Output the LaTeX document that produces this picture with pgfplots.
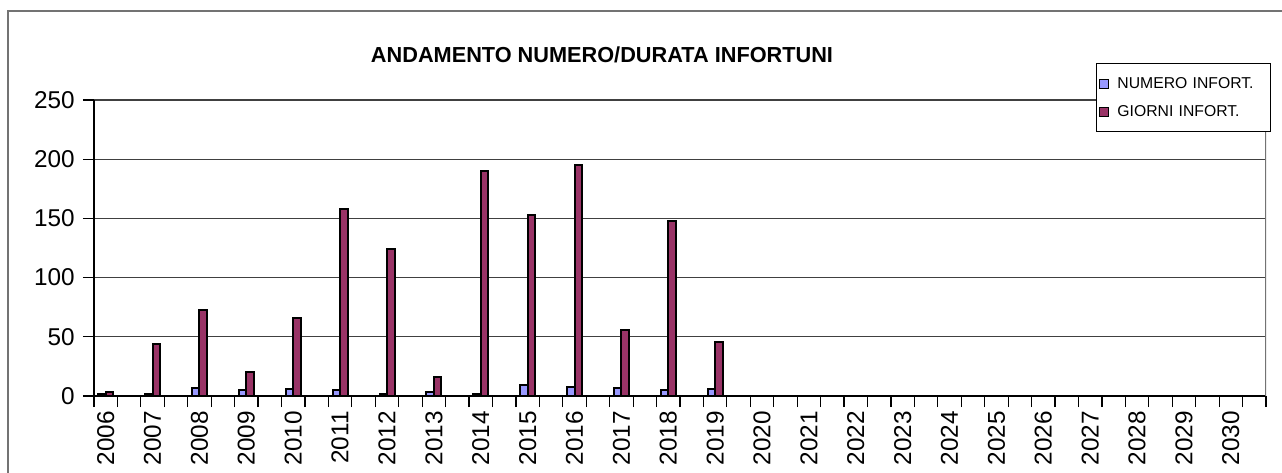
\documentclass[border=0pt]{standalone}
\usepackage{pgfplots}
\pgfplotsset{compat=1.18}
\usepackage{fontspec}
\setmainfont{Liberation Sans}
\definecolor{barblue}{HTML}{9999FF}
\definecolor{barred}{HTML}{993366}
\pgfplotsset{mylegimg/.style={legend image code/.code={\path[draw=none,fill=none] (0bp,-2.5bp) rectangle (10.5bp,2.5bp); \draw[##1, line width=0.6bp] (1.5bp,-2.25bp) rectangle (6bp,2.25bp);}}}
\begin{document}
\begin{tikzpicture}
\path[use as bounding box] (0,0) rectangle (641bp,236.5bp);
\draw[black!55, line width=0.8bp] (4bp,-5bp) -- (4bp,231bp) -- (645bp,231bp);
\node[font=\fontsize{10.9}{13}\bfseries\selectfont, anchor=base, inner sep=0pt] at (301bp,205bp) {ANDAMENTO NUMERO/DURATA INFORTUNI};
\begin{axis}[
  at={(47bp,38.5bp)}, anchor=south west,
  scale only axis, width=586bp, height=148bp,
  xmin=0, xmax=50, ymin=0, ymax=250,
  axis x line*=bottom, axis y line*=left,
  axis line style={-, line width=1bp, black},
  xtick={0,...,50}, xticklabels={},
  extra x ticks={0.5,2.5,...,48.5},
  extra x tick labels={2006,2007,2008,2009,2010,2011,2012,2013,2014,2015,2016,2017,2018,2019,2020,2021,2022,2023,2024,2025,2026,2027,2028,2029,2030},
  extra x tick style={major tick length=0pt, tick label style={rotate=90, anchor=east, inner xsep=7.5bp, inner ysep=0pt}},
  ytick={0,50,...,250},
  yticklabel style={inner xsep=4bp},
  tick align=outside, major tick length=5.5bp,
  tick style={black, line width=0.6bp},
  ymajorgrids, grid style={black!75, line width=0.6bp},
  ticklabel style={font=\fontsize{12.2}{14}\selectfont},
  /pgf/number format/assume math mode=true,
  legend style={at={(1.0043,1.125)}, anchor=north east, draw=black, line width=0.6bp, fill=white,
    font=\fontsize{7.9}{9}\selectfont, inner xsep=0pt, inner ysep=6bp, row sep=6bp, column sep=0pt,
    nodes={inner sep=0pt, text height=6.5bp, text depth=1.5bp, text width=76.5bp, align=left, anchor=west}},
  legend cell align=left,
]
\addplot[ybar, bar width=0.32, bar shift=-0.16, fill=barblue, draw=black, line width=1bp, mylegimg] coordinates {
(0.5,2) (2.5,2) (4.5,7) (6.5,5) (8.5,6) (10.5,5) (12.5,2) (14.5,3) (16.5,2) (18.5,9) (20.5,8) (22.5,7) (24.5,5) (26.5,6)};
\addlegendentry{NUMERO INFORT.}
\addplot[ybar, bar width=0.32, bar shift=0.16, fill=barred, draw=black, line width=1bp, mylegimg] coordinates {
(0.5,3) (2.5,44) (4.5,73) (6.5,20) (8.5,66) (10.5,158) (12.5,124) (14.5,16) (16.5,190) (18.5,153) (20.5,195) (22.5,56) (24.5,148) (26.5,46)};
\addlegendentry{GIORNI INFORT.}
\draw[black!55, line width=0.8bp] (rel axis cs:1,0) -- (rel axis cs:1,1);
\end{axis}
\end{tikzpicture}
\end{document}
